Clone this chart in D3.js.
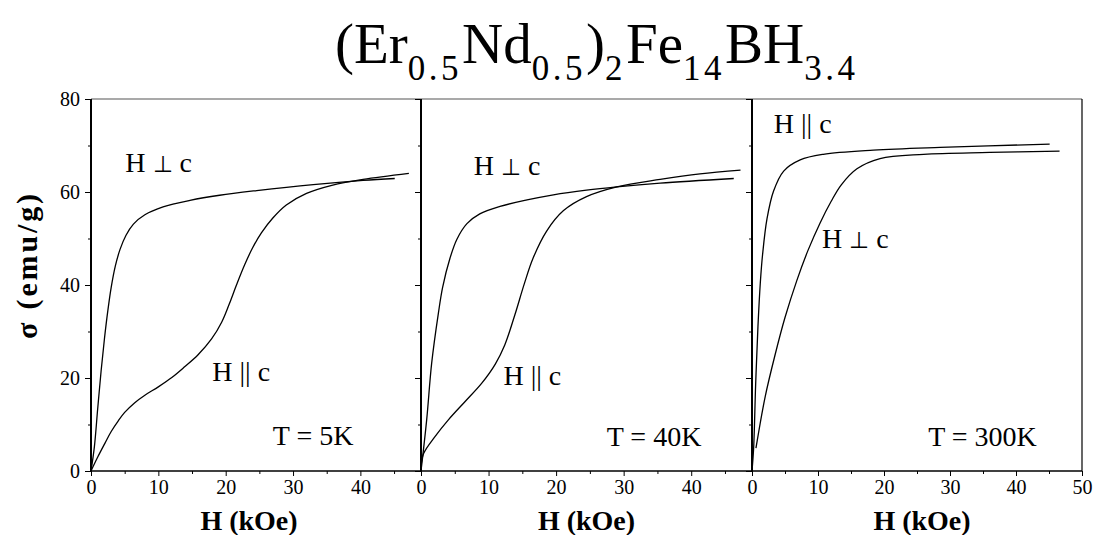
<!DOCTYPE html>
<html>
<head>
<meta charset="utf-8">
<script src="https://cdn.jsdelivr.net/npm/d3@7"></script>
<style>
  html, body { margin: 0; padding: 0; background: #fff; }
  svg { display: block; }
  text { font-family: "Liberation Serif", "Times New Roman", "DejaVu Serif", serif; fill: #000; }
</style>
</head>
<body>
<svg id="chart" width="1094" height="535"></svg>
<script>
// Magnetization curves sigma(H) of (Er0.5Nd0.5)2Fe14BH3.4 at three temperatures.
// Each series is a list of [H (kOe), sigma (emu/g)] pairs.

const panelLabels = ["T = 5K", "T = 40K", "T = 300K"];
const xMaxes = [49, 49, 50];
const xTicks = [[0, 10, 20, 30, 40], [0, 10, 20, 30, 40], [0, 10, 20, 30, 40, 50]];
const yTicks = [0, 20, 40, 60, 80];

// T = 5K
const perp5K = [[0, 0], [0.5, 5.2], [1.0, 13.5], [1.5, 21.5], [2.0, 28.5], [2.5, 34.5],
  [3.0, 39.5], [3.6, 44], [4.3, 47.6], [5.2, 50.7], [6.3, 53.1], [8.0, 55.1], [10.7, 56.8],
  [14.7, 58.2], [19.1, 59.3], [24.6, 60.3], [33, 61.6], [40.4, 62.5], [45.1, 62.9]];
const para5K = [[0, 0], [1.0, 3.0], [2.08, 6.0], [3.0, 8.5], [4.05, 10.8], [5.0, 12.6],
  [6.5, 14.7], [8.0, 16.3], [10, 18.1], [12, 20.1], [13.9, 22.4], [15.9, 25.0], [17.9, 28.4],
  [19.4, 32.0], [20.5, 35.8], [21.6, 40], [22.8, 44.3], [24.0, 48], [25.3, 51.2],
  [27.0, 54.4], [29.0, 57.2], [32.0, 59.7], [35.9, 61.5], [40.4, 62.7], [47.2, 64.0]];

// T = 40K
const perp40K = [[0, 0], [0.84, 11], [1.58, 23.2], [2.57, 33.9], [3.2, 39.5], [4.3, 45.8],
  [5.3, 49.8], [6.8, 53.2], [8.7, 55.3], [11.7, 56.9], [15.7, 58.3], [19.6, 59.4], [24.5, 60.4],
  [29, 61.1], [35.4, 61.9], [46.3, 62.9]];
const para40K = [[0, 1.0], [0.4, 3.8], [2.07, 7.4], [4.05, 11], [6.5, 14.9], [9.0, 18.9],
  [11.0, 23.0], [12.4, 27.1], [13.9, 33.6], [15.3, 40.3], [16.6, 45.8], [18.6, 51.6],
  [21.1, 56.0], [24.5, 59], [29, 61.1], [35.4, 62.7], [41.3, 63.9], [47.3, 64.7]];

// T = 300K
const para300K = [[0, 0], [0.25, 5], [0.55, 18.5], [0.9, 31], [1.26, 40.5], [1.6, 46.5],
  [2.27, 54.2], [3.27, 60.2], [4.8, 64.5], [7.3, 66.9], [10.8, 68.1], [18.4, 69], [28.5, 69.6],
  [45.1, 70.3]];
const perp300K = [[0.6, 4.9], [2.0, 16], [3.5, 25], [5.0, 33], [6.8, 41], [8.5, 47.5],
  [10.3, 53.3], [12.0, 58], [13.5, 61.5], [15.9, 65], [19.4, 67.2], [26, 68.1], [36, 68.5],
  [46.6, 68.8]];

const seriesByPanel = [[perp5K, para5K], [perp40K, para40K], [para300K, perp300K]];

// Curve annotations: [label parts, H, sigma] in data units of each panel
const notes = [
  [[["H ", "\u22A5", " c"], 5.1, 64.3], [["H || c"], 18.0, 19.3], [["T = 5K"], 27.0, 5.6]],
  [[["H ", "\u22A5", " c"], 7.8, 63.7], [["H || c"], 12.2, 18.5], [["T = 40K"], 27.5, 5.3]],
  [[["H || c"], 3.3, 72.6], [["H ", "\u22A5", " c"], 10.6, 47.9], [["T = 300K"], 26.7, 5.3]]
];

const svg = d3.select("#chart");
const plotTop = 99, plotBottom = 471;
const panelX = [[91, 421], [421, 752], [752, 1082]];

const y = d3.scaleLinear().domain([0, 80]).range([plotBottom, plotTop]);

// Frame: top edge and right edge
svg.append("line").attr("x1", 91).attr("x2", 1082).attr("y1", plotTop).attr("y2", plotTop)
  .attr("stroke", "#555").attr("stroke-width", 1.2);
svg.append("line").attr("x1", 1082).attr("x2", 1082).attr("y1", plotTop).attr("y2", plotBottom)
  .attr("stroke", "#000").attr("stroke-width", 1.2);

panelX.forEach((rng, i) => {
  const x = d3.scaleLinear().domain([0, xMaxes[i]]).range(rng);
  const g = svg.append("g");

  // bottom axis
  const xa = g.append("g").attr("transform", `translate(0,${plotBottom})`)
    .call(d3.axisBottom(x).tickValues(xTicks[i]).tickFormat(d3.format("d")).tickSize(5).tickPadding(4));
  xa.select(".domain").attr("stroke-width", 1.5).attr("d", `M${rng[0]},0H${rng[1]}`);
  xa.selectAll("text").attr("font-size", 20).attr("font-family", "Liberation Serif, serif");
  const xMinor = d3.range(5, xMaxes[i], 10);
  g.append("g").attr("transform", `translate(0,${plotBottom})`)
    .call(d3.axisBottom(x).tickValues(xMinor).tickFormat("").tickSize(3))
    .call(s => s.select(".domain").remove());

  // left axis
  const ya = g.append("g").attr("transform", `translate(${rng[0]},0)`)
    .call(d3.axisLeft(y).tickValues(yTicks).tickSize(6).tickPadding(5)
      .tickFormat(i === 0 ? d3.format("d") : ""));
  ya.select(".domain").attr("stroke-width", 2).attr("d", `M0,${plotBottom}V${plotTop}`);
  ya.selectAll("text").attr("font-size", 20).attr("font-family", "Liberation Serif, serif");
  g.append("g").attr("transform", `translate(${rng[0]},0)`)
    .call(d3.axisLeft(y).tickValues([10, 30, 50, 70]).tickFormat("").tickSize(3))
    .call(s => s.select(".domain").remove());

  // curves
  const line = d3.line().x(d => x(d[0])).y(d => y(d[1])).curve(d3.curveCatmullRom.alpha(0.5));
  seriesByPanel[i].forEach(s => {
    g.append("path").datum(s).attr("d", line)
      .attr("fill", "none").attr("stroke", "#000").attr("stroke-width", 1.3);
  });

  // annotations
  notes[i].forEach(([parts, hx, sy]) => {
    const t = g.append("text").attr("x", x(hx)).attr("y", y(sy)).attr("font-size", 28);
    parts.forEach(p => {
      const ts = t.append("tspan").text(p);
      if (p === "\u22A5") ts.attr("font-size", 23).attr("font-family", "DejaVu Sans, sans-serif")
        .attr("font-weight", 300);
    });
  });

  // axis title
  g.append("text").attr("x", (rng[0] + rng[1]) / 2 - (i === 0 ? 7 : (i === 2 ? -5 : 0)))
    .attr("y", 530).attr("text-anchor", "middle")
    .attr("font-size", 28).attr("font-weight", "bold").text("H (kOe)");
});

// y axis title
svg.append("text")
  .attr("transform", `translate(37,${(193 + 340) / 2}) rotate(-90)`)
  .attr("text-anchor", "middle").attr("font-size", 30).attr("font-weight", "bold")
  .attr("textLength", 145).attr("lengthAdjust", "spacing")
  .text("\u03C3 (emu/g)");

// chemical formula title with subscripts
const titleParts = [["(Er", false], ["0.5", true], ["Nd", false], ["0.5", true], [")", false],
  ["2", true], ["Fe", false], ["14", true], ["BH", false], ["3.4", true]];
const title = svg.append("text").attr("x", 335).attr("y", 63).attr("font-size", 57);
let sub = false;
titleParts.forEach(([t, s]) => {
  const ts = title.append("tspan").text(t);
  if (s !== sub) ts.attr("dy", s ? 17 : -17);
  if (s) ts.attr("font-size", 35).attr("letter-spacing", 3.5);
  sub = s;
});
</script>
</body>
</html>
